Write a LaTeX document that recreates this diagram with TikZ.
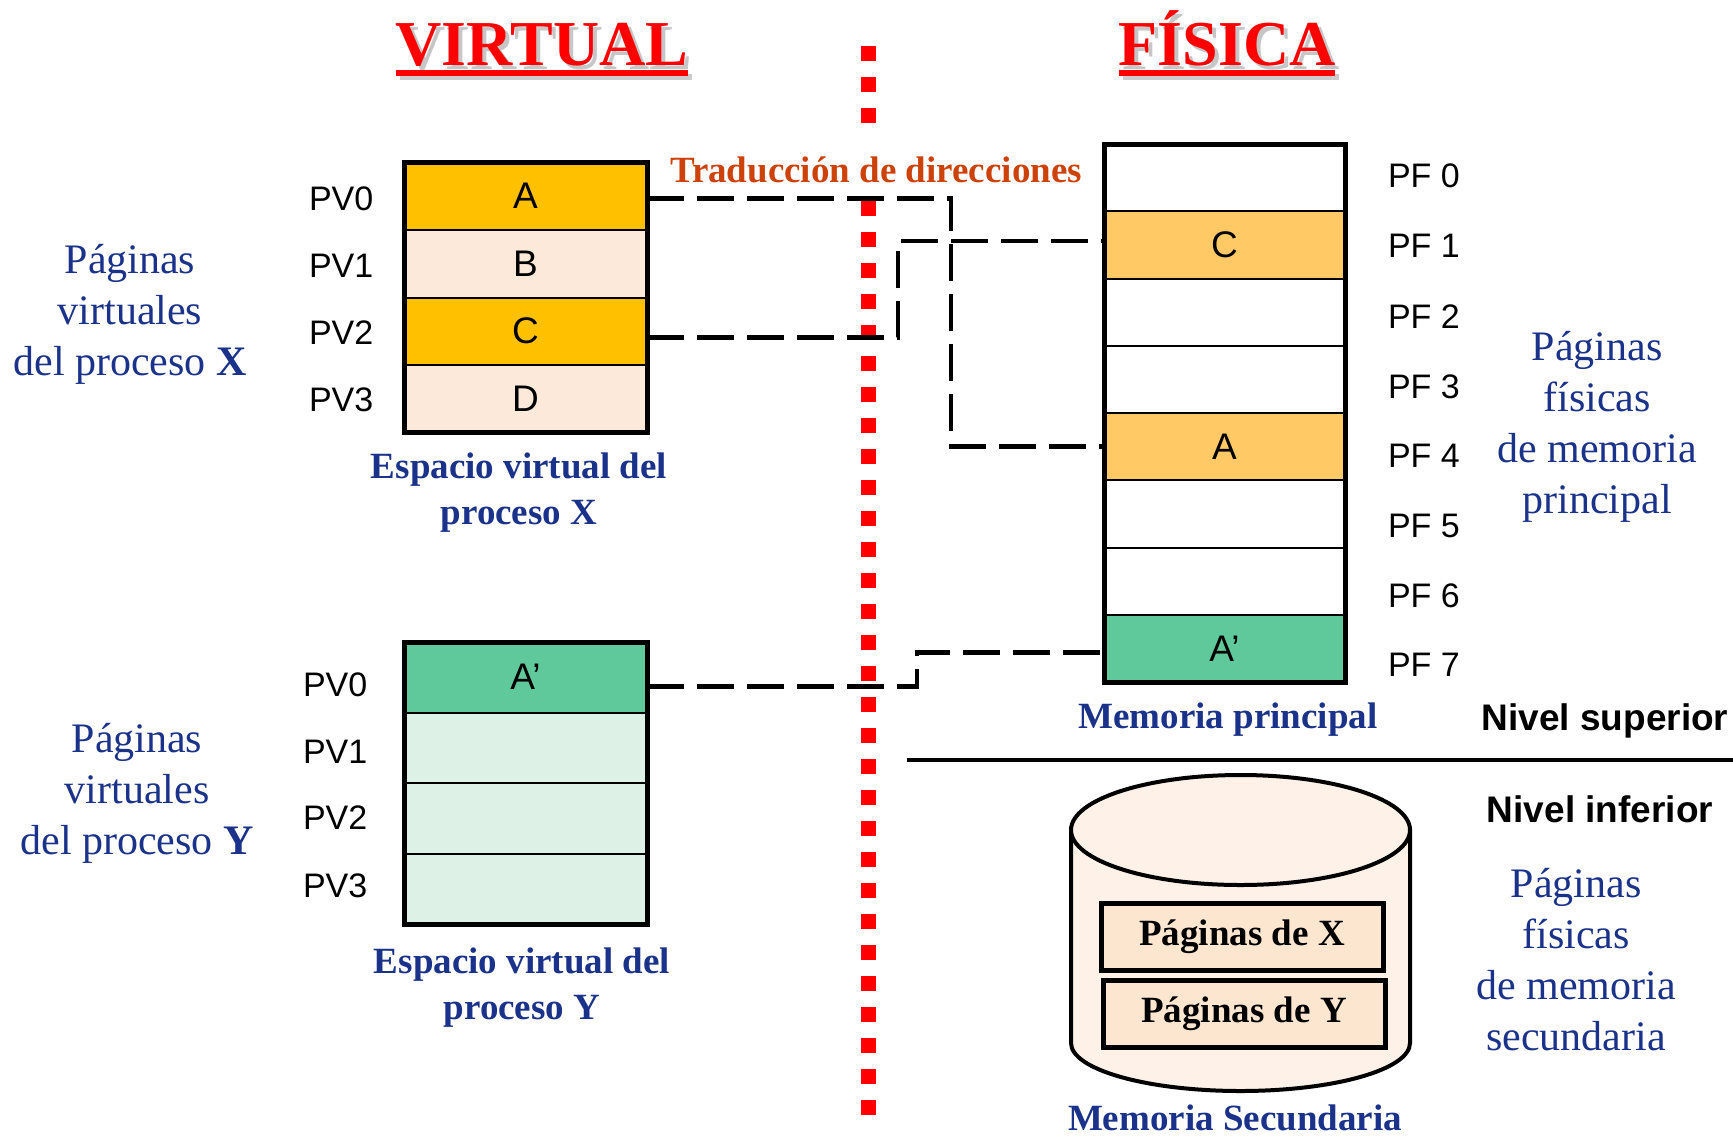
\documentclass[tikz,border=0pt]{standalone}
\usepackage{fontspec}
\setmainfont{Liberation Serif}
\setsansfont{Liberation Sans}
\usetikzlibrary{calc}
\definecolor{navy}{RGB}{26,50,138}
\definecolor{trad}{RGB}{205,65,10}
\definecolor{gold}{RGB}{255,192,0}
\definecolor{peach}{RGB}{253,233,217}
\definecolor{lorange}{RGB}{255,202,102}
\definecolor{mgreen}{RGB}{95,201,155}
\definecolor{lgreen}{RGB}{222,241,231}
\definecolor{cylf}{RGB}{254,242,232}
\definecolor{boxp}{RGB}{253,230,208}
\begin{document}
\begin{tikzpicture}[x=0.5pt,y=-0.5pt,
  every node/.style={inner sep=0pt,outer sep=0pt},
  cellv/.style={draw=black,line width=1pt,minimum width=121.5pt,minimum height=33.75pt,font=\fontsize{18.5}{22}\sffamily},
  celly/.style={cellv,minimum height=35.25pt},
  cellp/.style={draw=black,line width=1pt,minimum width=120.5pt,minimum height=33.625pt,font=\fontsize{18.5}{22}\sffamily},
  lbl/.style={anchor=base west,font=\fontsize{17}{20}\sffamily},
  bluetxt/.style={anchor=base,text=navy,font=\fontsize{21}{25.5}\selectfont},
  boldblue/.style={anchor=base,text=navy,font=\fontsize{18.5}{23}\selectfont\bfseries},
  conn/.style={line width=2.25pt,dash pattern=on 18.5pt off 6.5pt},
  reddot/.style={red,line width=7.5pt,dash pattern=on 7.5pt off 8pt},
  pbox/.style={draw=black,line width=2.5pt,fill=boxp,minimum width=141pt,minimum height=33.5pt,font=\fontsize{18.5}{22}\selectfont\bfseries},
  titlefont/.style={anchor=base,font=\fontsize{32}{36}\selectfont\bfseries}
]
\useasboundingbox (0,0) rectangle (1733,1135);

% red separator
\draw[reddot] (868,46) -- (868,128);
\draw[reddot] (868,201) -- (868,1118);

% titles (gray shadow under red underlined text)
\node[titlefont,text=gray!45] (tvs) at (546,69) {VIRTUAL};
\node[titlefont,text=red] (tv) at (542,65) {VIRTUAL};
\fill[gray!40] ($(tv.base west)+(4,9)$) rectangle ($(tv.base east)+(4,15)$);
\fill[red] ($(tv.base west)+(0,5)$) rectangle ($(tv.base east)+(0,11)$);
\node[titlefont,text=gray!45] (tfs) at (1231,69) {FÍSICA};
\node[titlefont,text=red] (tf) at (1227,65) {FÍSICA};
\fill[gray!40] ($(tf.base west)+(4,9)$) rectangle ($(tf.base east)+(4,15)$);
\fill[red] ($(tf.base west)+(0,5)$) rectangle ($(tf.base east)+(0,11)$);

% virtual X
\node[cellv,fill=gold]  (vxA) at (525.5,196.25) {A};
\node[cellv,fill=peach] (vxB) at (525.5,263.75) {B};
\node[cellv,fill=gold]  (vxC) at (525.5,331.25) {C};
\node[cellv,fill=peach] (vxD) at (525.5,398.75) {D};
\draw[line width=2.5pt] (vxA.north west) rectangle (vxD.south east);
\node[lbl] (px0) at (309,210) {PV0};
\node[lbl] (px1) at (309,277) {PV1};
\node[lbl] (px2) at (309,344) {PV2};
\node[lbl] (px3) at (309,411) {PV3};

% virtual Y
\node[celly,fill=mgreen] (vyA) at (525.5,677.25) {A’};
\node[celly,fill=lgreen] (vy1) at (525.5,747.75) {};
\node[celly,fill=lgreen] (vy2) at (525.5,818.25) {};
\node[celly,fill=lgreen] (vy3) at (525.5,888.75) {};
\draw[line width=2.5pt] (vyA.north west) rectangle (vy3.south east);
\node[lbl] (py0) at (303,696) {PV0};
\node[lbl] (py1) at (303,763) {PV1};
\node[lbl] (py2) at (303,829) {PV2};
\node[lbl] (py3) at (303,897) {PV3};

% physical memory
\node[cellp,fill=white]   (pf0) at (1224.5,177.625) {};
\node[cellp,fill=lorange] (pf1) at (1224.5,244.875) {C};
\node[cellp,fill=white]   (pf2) at (1224.5,312.125) {};
\node[cellp,fill=white]   (pf3) at (1224.5,379.375) {};
\node[cellp,fill=lorange] (pf4) at (1224.5,446.625) {A};
\node[cellp,fill=white]   (pf5) at (1224.5,513.875) {};
\node[cellp,fill=white]   (pf6) at (1224.5,581.125) {};
\node[cellp,fill=mgreen]  (pf7) at (1224.5,648.375) {A’};
\node[lbl] (l0) at (1388,187) {PF 0};
\node[lbl] (l1) at (1388,257) {PF 1};
\node[lbl] (l2) at (1388,328) {PF 2};
\node[lbl] (l3) at (1388,398) {PF 3};
\node[lbl] (l4) at (1388,467) {PF 4};
\node[lbl] (l5) at (1388,537) {PF 5};
\node[lbl] (l6) at (1388,607) {PF 6};
\node[lbl] (l7) at (1388,676) {PF 7};

% connectors
\coordinate (k1) at (951,0);
\coordinate (k2) at (898,0);
\coordinate (k3) at (917,0);
\coordinate (sA) at ([yshift=-1pt]vxA.east);
\coordinate (sC) at ([yshift=-3pt]vxC.east);
\coordinate (sY) at ([yshift=-4.5pt]vyA.east);
\coordinate (tC) at ([yshift=2pt]pf1.west);
\coordinate (tA) at (pf4.west);
\coordinate (tY) at ([yshift=-2pt]pf7.west);
\draw[conn] (sA) -- (sA -| k1) -- (k1 |- tA) -- (tA);
\draw[conn] (sC) -- (sC -| k2) -- (k2 |- tC) -- (tC);
\draw[conn] (sY) -- (sY -| k3) -- (k3 |- tY) -- (tY);
\draw[line width=2.5pt] (pf0.north west) rectangle (pf7.south east);

% texts
\node[anchor=base,text=trad,font=\fontsize{18.5}{22}\selectfont\bfseries] (tr) at (876,182) {Traducción de direcciones};
\node[bluetxt] (lx) at (130,273) {\begin{tabular}[t]{@{}c@{}}Páginas\\virtuales\\del proceso \textbf{X}\end{tabular}};
\node[bluetxt] (ly) at (137,752) {\begin{tabular}[t]{@{}c@{}}Páginas\\virtuales\\del proceso \textbf{Y}\end{tabular}};
\node[boldblue] (ex) at (519,478) {\begin{tabular}[t]{@{}c@{}}Espacio virtual del\\proceso X\end{tabular}};
\node[boldblue] (ey) at (522,973) {\begin{tabular}[t]{@{}c@{}}Espacio virtual del\\proceso Y\end{tabular}};
\node[bluetxt] (rp) at (1597,360) {\begin{tabular}[t]{@{}c@{}}Páginas\\físicas\\de memoria\\principal\end{tabular}};
\node[bluetxt] (rs) at (1576,897) {\begin{tabular}[t]{@{}c@{}}Páginas\\físicas\\de memoria\\secundaria\end{tabular}};
\node[boldblue] (mp) at (1228,728) {Memoria principal};
\node[boldblue] (ms) at (1235,1130) {Memoria Secundaria};
\node[anchor=base,font=\fontsize{18.5}{22}\sffamily\bfseries] (ns) at (1605,730) {Nivel superior};
\node[anchor=base,font=\fontsize{18.5}{22}\sffamily\bfseries] (ni) at (1600,822) {Nivel inferior};

% level separator
\coordinate (hl1) at (907,760);
\coordinate (hl2) at (1733,760);
\draw[line width=2pt] (hl1) -- (hl2);

% secondary memory cylinder
\fill[cylf] (1071,830) -- (1071,1043) arc[start angle=180,end angle=360,x radius=84.75pt,y radius=24pt] -- (1410,830) -- cycle;
\draw[line width=2pt] (1071,830) -- (1071,1043) arc[start angle=180,end angle=360,x radius=84.75pt,y radius=24pt] -- (1410,830);
\draw[line width=2pt,fill=cylf] (1240.5,830) ellipse[x radius=84.75pt,y radius=27.5pt];
\node[pbox] (pgx) at (1242,936.5) {Páginas de X};
\node[pbox] (pgy) at (1244,1013.5) {Páginas de Y};
\end{tikzpicture}
\end{document}
